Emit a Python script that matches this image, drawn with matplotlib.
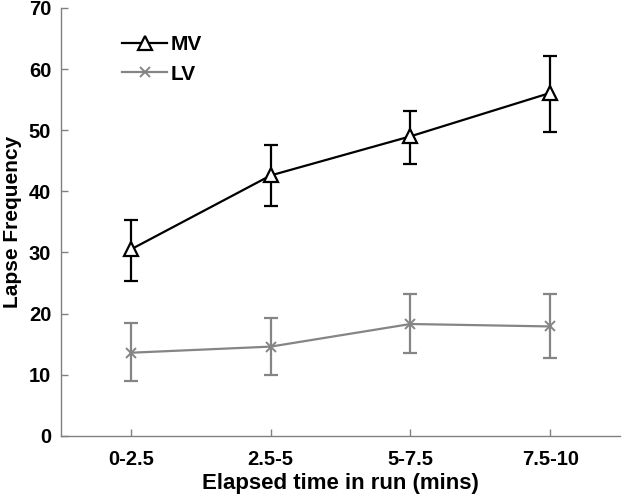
import matplotlib
matplotlib.use('Agg')
import matplotlib.pyplot as plt
import numpy as np

# data
bins = ['0-2.5', '2.5-5', '5-7.5', '7.5-10']
mv = [30.5, 42.6, 49.0, 56.1]
mv_lo = [25.4, 37.6, 44.5, 49.7]
mv_hi = [35.3, 47.5, 53.2, 62.2]
lv = [13.6, 14.6, 18.3, 17.9]
lv_lo = [9.0, 10.0, 13.5, 12.8]
lv_hi = [18.4, 19.3, 23.2, 23.2]

plt.rcParams['font.family'] = ['Liberation Sans', 'DejaVu Sans']
plt.rcParams['font.weight'] = 'bold'

fig = plt.figure(figsize=(6.22, 4.97), dpi=100)
ax = fig.add_axes([0.098, 0.123, 0.899, 0.861])

x = np.arange(1, len(bins) + 1)
mv_err = [np.array(mv) - np.array(mv_lo), np.array(mv_hi) - np.array(mv)]
lv_err = [np.array(lv) - np.array(lv_lo), np.array(lv_hi) - np.array(lv)]

# error bars first, then the lines with markers on top
ax.errorbar(x, lv, yerr=lv_err, fmt='none', ecolor='#858585', capsize=5,
            capthick=1.6, elinewidth=1.6, zorder=2)
ax.plot(x, lv, color='#858585', lw=1.6, marker='x', ms=7, mew=1.4,
        label='LV', zorder=2)
ax.errorbar(x, mv, yerr=mv_err, fmt='none', ecolor='black', capsize=5,
            capthick=1.6, elinewidth=1.6, zorder=3)
ax.plot(x, mv, color='black', lw=1.6, marker='^', ms=10, mfc='white',
        mec='black', mew=1.6, label='MV', zorder=4)

ax.set_xlim(0.5, 4.5)
ax.set_ylim(0, 70)
ax.set_xticks(x)
ax.set_xticklabels(bins)
ax.set_yticks(range(0, 71, 10))
ax.tick_params(direction='in', colors='#808080', labelcolor='black',
               labelsize=14.5, length=5, width=1)
ax.tick_params(axis='y', pad=7)
ax.tick_params(axis='x', pad=10)
for s in ['top', 'right']:
    ax.spines[s].set_visible(False)
for s in ['left', 'bottom']:
    ax.spines[s].set_color('#808080')
    ax.spines[s].set_linewidth(1)

ax.set_xlabel('Elapsed time in run (mins)', fontsize=16, fontweight='bold', labelpad=3)
ax.set_ylabel('Lapse Frequency', fontsize=15, fontweight='bold', labelpad=5)

handles, labels = ax.get_legend_handles_labels()
ax.legend(handles[::-1], labels[::-1], loc='upper left', bbox_to_anchor=(0.075, 0.98),
          frameon=False, fontsize=15, handlelength=2.2, handletextpad=0.15,
          labelspacing=0.5)

fig.savefig('out.png', dpi=100)
